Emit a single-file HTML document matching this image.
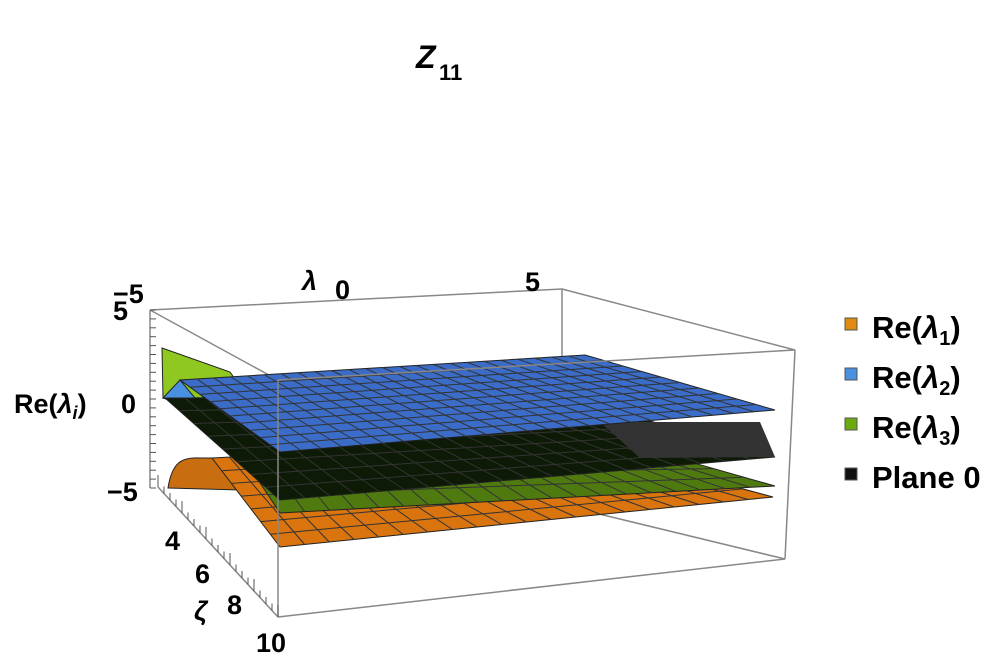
<!DOCTYPE html>
<html><head><meta charset="utf-8"><style>
body{margin:0;background:#fff;width:1002px;height:667px;overflow:hidden}
svg{display:block}
text{font-family:"Liberation Sans",Arial,sans-serif;font-weight:bold;fill:#000}
</style></head><body>
<svg id="s" width="1002" height="667" viewBox="0 0 1002 667">
<text x="416" y="68" font-size="32" font-style="italic">Z</text><text x="439" y="80" font-size="22">11</text>
<g stroke="#888" stroke-width="1.5" fill="none">
<line x1="150" y1="310" x2="562" y2="289"/>
<line x1="562" y1="289" x2="795" y2="350"/>
<line x1="150" y1="310" x2="150" y2="488"/>
<line x1="158" y1="487" x2="278" y2="617"/>
<line x1="562" y1="289" x2="562" y2="505"/>
<line x1="562" y1="505" x2="785" y2="559"/>
<line x1="150" y1="310" x2="278" y2="380"/>
</g>
<g id="surf"></g>
<g stroke="#888" stroke-width="1.5" fill="none">
<line x1="278" y1="380" x2="795" y2="350"/>
<line x1="278" y1="380" x2="278" y2="617"/>
<line x1="795" y1="350" x2="785" y2="559"/>
<line x1="278" y1="617" x2="785" y2="559"/>
</g>
<g stroke="#555" stroke-width="1" id="ticks"></g>
<g font-size="27">
<text x="302" y="290" font-style="italic">λ</text>
<text x="335" y="299">0</text>
<text x="525" y="291">5</text>
<text x="113" y="303">−5</text>
<text x="113" y="320">5</text>
<text x="121" y="413">0</text>
<text x="107" y="501">−5</text>
<text x="14" y="413">Re(<tspan font-style="italic">λ</tspan><tspan font-size="18" dy="6" font-style="italic">i</tspan><tspan dy="-6">)</tspan></text>
<text x="165" y="550">4</text>
<text x="195" y="583">6</text>
<text x="227" y="614">8</text>
<text x="194" y="620" font-style="italic">ζ</text>
<text x="256" y="652">10</text>
</g>
<g font-size="31">
<rect x="845" y="318" width="12" height="12" fill="#e08a10" stroke="#555"/><text x="872" y="338">Re(<tspan font-style="italic">λ</tspan><tspan font-size="20" dy="7">1</tspan><tspan dy="-7">)</tspan></text>
<rect x="845" y="368" width="12" height="12" fill="#4a90e0" stroke="#555"/><text x="872" y="388">Re(<tspan font-style="italic">λ</tspan><tspan font-size="20" dy="7">2</tspan><tspan dy="-7">)</tspan></text>
<rect x="845" y="418" width="12" height="12" fill="#6aaa10" stroke="#555"/><text x="872" y="438">Re(<tspan font-style="italic">λ</tspan><tspan font-size="20" dy="7">3</tspan><tspan dy="-7">)</tspan></text>
<rect x="845" y="468" width="12" height="12" fill="#111" stroke="#555"/><text x="872" y="488">Plane 0</text>
</g>
</svg>
<script>
var NS="http://www.w3.org/2000/svg",g=document.getElementById('surf');
function el(n,a){var e=document.createElementNS(NS,n);for(var k in a)e.setAttribute(k,a[k]);return e}
function quad(p,fill,nu,nv){
 g.appendChild(el('polygon',{points:p.map(function(q){return q.join(',')}).join(' '),fill:fill,stroke:'#222','stroke-width':1}));
 function L(a,b,t){return [a[0]+(b[0]-a[0])*t,a[1]+(b[1]-a[1])*t]}
 for(var i=1;i<nu;i++){var t=i/nu,a=L(p[0],p[1],t),b=L(p[3],p[2],t);g.appendChild(el('line',{x1:a[0],y1:a[1],x2:b[0],y2:b[1],stroke:'#333','stroke-width':1}))}
 for(var j=1;j<nv;j++){var t=j/nv,a=L(p[0],p[3],t),b=L(p[1],p[2],t);g.appendChild(el('line',{x1:a[0],y1:a[1],x2:b[0],y2:b[1],stroke:'#333','stroke-width':1}))}
}
// orange hump
g.appendChild(el('path',{d:'M168,488 C172,462 182,457 200,458 L215,458 L240,490 Z',fill:'#c86e10',stroke:'#222'}));
quad([[212,458],[560,440],[773,497],[280,547]],'#d9740f',20,7);
// green wedge
g.appendChild(el('path',{d:'M162,348 L230,372 L250,400 L210,415 L163,398 Z',fill:'#8fc820',stroke:'#222'}));
quad([[195,385],[560,425],[775,486],[280,513]],'#4e7a10',20,7);
quad([[165,398],[560,395],[775,457],[280,500]],'#0d1a05',20,8);
g.appendChild(el('polygon',{points:'600,422 760,422 775,457 640,458',fill:'#333'}));
g.appendChild(el('polygon',{points:'163,398 180,380 195,398',fill:'#4a90e0',stroke:'#222'}));
quad([[180,380],[585,355],[775,410],[280,452]],'#3a6cc8',24,10);
var t=document.getElementById('ticks');
for(var i=0;i<=20;i++){var y=310+i*178/20;t.appendChild(el('line',{x1:150,y1:y,x2:156,y2:y}))}
for(var i=0;i<=20;i++){var f=i/20,x=158+120*f,y=487+130*f;t.appendChild(el('line',{x1:x,y1:y,x2:x,y2:y-(i%4==0?12:7)}))}
</script>
</body></html>
